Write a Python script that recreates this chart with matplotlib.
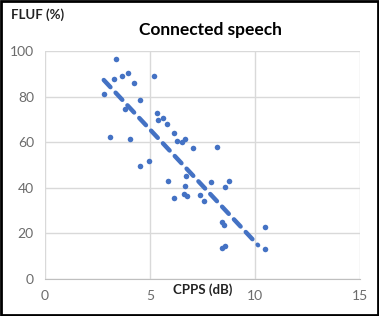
import numpy as np
import matplotlib
matplotlib.use("Agg")
import matplotlib.pyplot as plt
from matplotlib.patches import Rectangle

# valores
cpps = [3.38, 2.81, 3.27, 3.67, 3.94, 4.24, 5.19, 4.51, 3.79, 3.10, 4.06, 4.54,
        4.97, 5.35, 5.37, 5.60, 5.81, 6.16, 6.68, 6.54, 6.27, 7.05, 8.19, 5.87,
        6.71, 6.65, 6.60, 6.78, 6.16, 7.38, 7.56, 7.89, 8.59, 8.78, 8.41, 8.52,
        10.48, 8.45, 8.56, 10.46]
fluf = [96.3, 81.2, 87.8, 89.1, 90.2, 85.8, 89.1, 78.5, 74.7, 62.3, 61.5, 49.7,
        51.9, 72.8, 69.6, 70.6, 68.1, 64.2, 61.5, 59.9, 60.4, 57.6, 57.7, 43.2,
        45.1, 40.6, 37.4, 36.2, 35.6, 36.9, 34.4, 42.6, 40.4, 42.8, 25.2, 23.7,
        22.9, 13.8, 14.4, 13.2]

# linea de tendencia (Excel)
pendiente = -9.86
intercepto = 114.9
x_tendencia = [2.8, 10.15]

x_ticks = [0, 5, 10, 15]
y_ticks = [0, 20, 40, 60, 80, 100]

azul = "#4472c4"
gris = "#6b6b6b"

plt.rcParams['font.family'] = ['Lato', 'DejaVu Sans']

fig = plt.figure(figsize=(3.79, 3.16), dpi=100)
ax = fig.add_axes([0.1187, 0.117, 0.831, 0.7215])

xt = np.array(x_tendencia)
ax.plot(xt, intercepto + pendiente * xt, color=azul, linewidth=3.2,
        dashes=(2.2, 1.7), dash_capstyle='round', zorder=3)
ax.scatter(cpps, fluf, s=16, color=azul, zorder=4, linewidths=0)

ax.set_xlim(0, 15)
ax.set_ylim(0, 100)
ax.set_xticks(x_ticks)
ax.set_yticks(y_ticks)
ax.grid(True, color="#d9d9d9", linewidth=1.0)
ax.set_axisbelow(True)
for lado in ['top', 'right', 'left']:
    ax.spines[lado].set_visible(False)
ax.spines['bottom'].set_color("#bfbfbf")
ax.tick_params(length=0, colors=gris, labelsize=10, pad=8)

fig.text(0.555, 0.905, "Connected speech", ha='center', va='center',
         fontsize=12.5, fontweight='bold', color='black')
fig.text(0.03, 0.955, "FLUF (%)", ha='left', va='center',
         fontsize=9.5, fontweight='bold', color='#222222')
fig.text(0.535, 0.082, "CPPS (dB)", ha='center', va='center',
         fontsize=9.5, fontweight='bold', color='#222222')

fig.patches.append(Rectangle((0.003, 0.003), 0.994, 0.994, transform=fig.transFigure,
                             fill=False, edgecolor='black', linewidth=2))

fig.savefig("out.png", dpi=100)
